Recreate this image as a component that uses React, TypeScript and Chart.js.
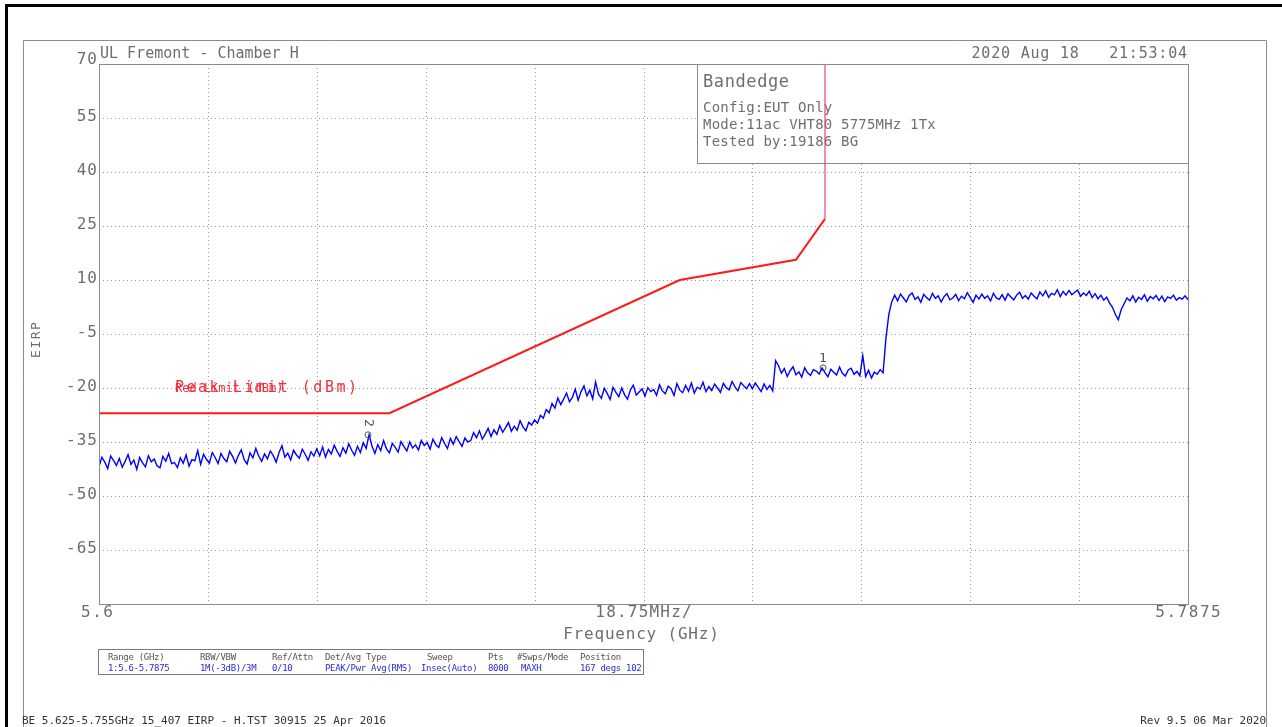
import React, { useEffect, useRef } from "react";
import { Chart, registerables } from "chart.js";

Chart.register(...registerables);

// ---- data ----
const yGridValues = [70, 55, 40, 25, 10, -5, -20, -35, -50, -65, -80];
const yTickLabels = ["70", "55", "40", "25", "10", "-5", "-20", "-35", "-50", "-65"];
const xGridValues = [5.6, 5.61875, 5.6375, 5.65625, 5.675, 5.69375, 5.7125, 5.73125, 5.75, 5.76875, 5.7875];
const xStartLabel = "5.6";
const xCenterLabel = "18.75MHz/";
const xEndLabel = "5.7875";

const limitFreqs = [5.6, 5.65, 5.7, 5.72, 5.725, 5.725];
const limitLevels = [-27, -27, 10, 15.6, 27, 122];

const traceStartGHz = 5.6;
const traceStepGHz = 0.0005;
const traceLevels = [
  // 5.6000 - 5.6170
  -41.8, -39.2, -40.6, -42.4, -38.9, -40.1, -41.5, -39.6, -42.0, -40.4, -38.5, -41.2, -40.0, -42.6, -39.3, -40.8, -41.9, -38.8, -40.5, -39.7,
  -41.6, -42.2, -39.0, -40.3, -38.2, -41.0, -40.7, -42.1, -39.4, -40.9, -38.6, -41.7, -39.9, -40.2, -37.4,
  // 5.6175 - 5.6375
  -41.2, -38.4, -39.8, -40.9, -37.9, -39.3, -41.0, -38.2, -39.6, -40.5, -37.6, -39.0, -40.8, -38.7, -37.2, -39.9, -41.1, -38.0, -39.4, -36.8,
  -38.9, -40.4, -38.3, -39.7, -37.5, -38.8, -40.6, -37.9, -36.0, -39.2, -38.1, -40.0, -37.3, -38.6, -39.5, -37.0, -38.4, -40.1, -37.7, -38.9, -36.9,
  // 5.6380 - 5.6545
  -38.8, -36.4, -39.2, -37.1, -38.3, -35.9, -37.6, -39.0, -36.6, -38.1, -35.5, -37.3, -38.7, -36.2, -37.9, -35.2, -36.8, -33.0, -36.1, -38.2,
  -35.7, -37.4, -34.6, -36.9, -38.0, -35.4, -36.5, -37.8, -34.9, -36.3, -37.5, -35.0, -36.7, -35.8,
  // 5.6550 - 5.6635
  -37.2, -34.6, -36.0, -35.1, -37.0, -34.2, -35.8, -36.5, -33.8, -35.4, -36.8, -34.0, -35.6, -33.5, -34.9, -36.2, -33.9, -35.0,
  // 5.6640 - 5.6750
  -34.6, -32.4, -33.8, -31.9, -34.2, -32.8, -31.2, -33.5, -31.6, -32.9, -30.4, -32.3, -31.0, -29.6, -32.0, -30.6, -31.7, -29.1, -30.8, -31.9,
  -29.5, -30.3, -28.9,
  // 5.6755 - 5.6810
  -29.8, -27.6, -28.4, -26.0, -26.9, -24.3, -25.6, -22.8, -24.6, -23.1, -21.4, -23.8,
  // 5.6815 - 5.6935
  -22.6, -20.3, -23.4, -21.0, -19.4, -22.2, -20.6, -23.0, -18.3, -21.7, -22.8, -20.1, -21.5, -23.2, -19.8, -21.2, -22.4, -20.0, -21.9, -23.1,
  -20.5, -19.2, -22.0, -21.1, -20.2,
  // 5.6940 - 5.7120
  -22.3, -19.9, -21.0, -20.4, -22.0, -19.1, -20.8, -21.6, -19.5, -20.2, -22.1, -18.8, -20.6, -21.3, -19.3, -20.9, -18.6, -21.4, -19.8, -20.3,
  -18.4, -21.0, -19.6, -20.7, -18.9, -20.0, -21.2, -18.7, -19.9, -20.5, -18.2, -19.7, -20.8, -18.5, -19.4, -20.2, -18.8,
  // 5.7125 - 5.7165
  -20.2, -18.6, -19.8, -21.0, -18.9, -20.4, -19.3, -20.8, -12.4,
  // 5.7170 - 5.7310
  -13.8, -15.9, -14.6, -16.8, -15.2, -14.1, -16.3, -15.5, -17.0, -14.4, -15.8, -16.5, -14.9, -15.3, -16.1, -14.4, -15.7, -16.9, -14.8, -15.6,
  -16.4, -14.2, -15.9, -16.7, -15.0, -14.5, -16.2, -15.4, -16.6, -11.0,
  // 5.7320 - 5.7370
  -16.8, -15.1, -17.2, -15.6, -16.2, -14.9, -15.8, -6.0, 0.5, 4.0, 5.8,
  // 5.7375 - 5.7875
  4.2, 6.1, 5.0, 3.9, 5.7, 6.4, 4.6, 5.3, 3.8, 6.0,
  5.1, 4.4, 6.3, 4.9, 5.6, 3.9, 5.4, 6.2, 4.5, 5.0,
  6.0, 4.3, 5.5, 4.8, 6.5, 5.2, 3.8, 5.8, 4.7, 6.1,
  4.9, 5.6, 4.2, 6.3, 5.0, 4.6, 5.9, 4.4, 6.2, 5.3,
  4.5, 5.8, 6.6, 4.9, 5.7, 4.7, 6.4, 5.5, 4.8, 6.7,
  5.6, 7.0, 5.2, 6.3, 5.9, 7.3, 5.4, 6.8, 5.8, 7.1,
  5.9, 6.6, 7.2, 5.5, 6.4, 5.7, 6.9, 5.1, 6.2, 4.8,
  5.8, 4.4, 5.2, 3.6, 2.4, 0.4, -1.0, 1.8, 3.4, 5.0,
  4.2, 5.6, 3.9, 5.2, 4.6, 5.9, 4.1, 5.4, 4.8, 5.7,
  4.3, 5.5, 4.0, 5.3, 4.9, 5.8, 4.4, 5.1, 4.7, 5.6, 4.5,
];

const markerLabels = ["1", "2"];
const markerFreqs = [5.72466, 5.64632];
const markerLevels = [-14.4, -33.0];

const headerLeft = "UL Fremont - Chamber H";
const headerRight = "2020 Aug 18   21:53:04";
const infoTitle = "Bandedge";
const infoLines = ["Config:EUT Only", "Mode:11ac VHT80 5775MHz 1Tx", "Tested by:19186 BG"];
const legendTextA = "Peak Limit (dBm)";
const legendTextB = "Red Limit (dBm)";
const yAxisTitle = "EIRP";
const xAxisTitle = "Frequency (GHz)";
const tableHeaders = ["Range (GHz)", "RBW/VBW", "Ref/Attn", "Det/Avg Type", "Sweep", "Pts", "#Swps/Mode", "Position"];
const tableValues = ["1:5.6-5.7875", "1M(-3dB)/3M", "0/10", "PEAK/Pwr Avg(RMS)", "Insec(Auto)", "8000", "MAXH", "167 degs 102"];
const footerLeft = "BE 5.625-5.755GHz 15_407 EIRP - H.TST 30915 25 Apr 2016";
const footerRight = "Rev 9.5 06 Mar 2020";

const MONO = "'DejaVu Sans Mono', 'Liberation Mono', monospace";

function txt(
  ctx: CanvasRenderingContext2D,
  s: string,
  x: number,
  y: number,
  size: number,
  color: string,
  align: CanvasTextAlign = "left",
  spacing = 0,
  baseline: CanvasTextBaseline = "alphabetic"
) {
  ctx.save();
  ctx.font = `${size}px ${MONO}`;
  ctx.fillStyle = color;
  ctx.textAlign = align;
  ctx.textBaseline = baseline;
  (ctx as any).letterSpacing = `${spacing}px`;
  const dx = align === "right" ? spacing : align === "center" ? spacing / 2 : 0;
  ctx.fillText(s, x + dx, y);
  ctx.restore();
}

const decorPlugin = {
  id: "decor",
  beforeDatasetsDraw(chart: any) {
    const ctx: CanvasRenderingContext2D = chart.ctx;
    const { left, right, top, bottom } = chart.chartArea;
    const xs = chart.scales.x;
    const ys = chart.scales.y;
    ctx.save();
    ctx.strokeStyle = "#9a9a9a";
    ctx.lineWidth = 1;
    ctx.setLineDash([1, 3]);
    xGridValues.slice(1, -1).forEach((v) => {
      const px = Math.round(xs.getPixelForValue(v)) + 0.5;
      ctx.beginPath();
      ctx.moveTo(px, top);
      ctx.lineTo(px, bottom);
      ctx.stroke();
    });
    yGridValues.slice(1, -1).forEach((v) => {
      const py = Math.round(ys.getPixelForValue(v)) + 0.5;
      ctx.beginPath();
      ctx.moveTo(left, py);
      ctx.lineTo(right, py);
      ctx.stroke();
    });
    ctx.setLineDash([]);
    // info box
    ctx.fillStyle = "#ffffff";
    ctx.fillRect(697, top, right - 697, 163 - top);
    ctx.strokeStyle = "#8a8a8a";
    ctx.strokeRect(697.5, top + 0.5, right - 697, 163 - top);
    ctx.restore();
    txt(ctx, infoTitle, 703, 87, 17, "#6e6e6e", "left", 0.6);
    infoLines.forEach((l, i) => txt(ctx, l, 703, 112 + i * 17, 14, "#6e6e6e", "left", 0.2));
  },
  afterDatasetsDraw(chart: any) {
    const ctx: CanvasRenderingContext2D = chart.ctx;
    const { left, right, top, bottom } = chart.chartArea;
    const xs = chart.scales.x;
    const ys = chart.scales.y;
    ctx.save();
    // plot border
    ctx.strokeStyle = "#8a8a8a";
    ctx.lineWidth = 1;
    ctx.strokeRect(Math.round(left) + 0.5, Math.round(top) + 0.5, Math.round(right - left), Math.round(bottom - top));
    // frames
    ctx.strokeStyle = "#8c8c8c";
    ctx.beginPath();
    ctx.moveTo(23.5, 727);
    ctx.lineTo(23.5, 40.5);
    ctx.lineTo(1266.5, 40.5);
    ctx.lineTo(1266.5, 727);
    ctx.stroke();
    ctx.fillStyle = "#000000";
    ctx.fillRect(5, 4, 3, 723);
    ctx.fillRect(5, 4, 1277, 3);
    ctx.restore();

    const grey = "#6e6e6e";
    // header
    txt(ctx, headerLeft, 100, 58, 15, grey, "left", 0);
    txt(ctx, headerRight, 1187, 58, 15, grey, "right", 0.8);
    // y ticks
    yTickLabels.forEach((lab, i) => {
      const py = ys.getPixelForValue(yGridValues[i]);
      txt(ctx, lab, 97, i === 0 ? py - 4 : py - 1, 16, grey, "right", 1, "middle");
    });
    // x labels
    txt(ctx, xStartLabel, xs.getPixelForValue(xGridValues[0]) - 2, 617, 16, grey, "center", 1.5);
    txt(ctx, xCenterLabel, xs.getPixelForValue(xGridValues[5]), 617, 16, grey, "center", 1.2);
    txt(ctx, xEndLabel, xs.getPixelForValue(xGridValues[10]), 617, 16, grey, "center", 1.5);
    txt(ctx, xAxisTitle, 641, 639, 16, grey, "center", 0.8);
    // y title
    ctx.save();
    ctx.translate(37, 340);
    ctx.rotate(-Math.PI / 2);
    txt(ctx, yAxisTitle, 0, 0, 13, grey, "center", 1.5, "middle");
    ctx.restore();
    // legend text (overlapping)
    txt(ctx, legendTextA, 175, 392, 15, "#f0303a", "left", 2.5);
    txt(ctx, legendTextB, 175, 392, 12, "#f0303a", "left", 0);
    // markers
    markerLabels.forEach((lab, i) => {
      const px = xs.getPixelForValue(markerFreqs[i]);
      const py = ys.getPixelForValue(markerLevels[i]);
      ctx.save();
      ctx.strokeStyle = "#555";
      ctx.lineWidth = 1;
      ctx.beginPath();
      ctx.arc(px, py, 3, 0, Math.PI * 2);
      ctx.stroke();
      ctx.restore();
      if (i === 1) {
        ctx.save();
        ctx.translate(px, py - 12);
        ctx.rotate(Math.PI / 2);
        txt(ctx, lab, 0, 0, 13, "#555", "center", 0, "middle");
        ctx.restore();
      } else {
        txt(ctx, lab, px, py - 6, 13, "#555", "center", 0);
      }
    });
    // bottom table
    ctx.save();
    ctx.strokeStyle = "#7a7a7a";
    ctx.lineWidth = 1;
    ctx.strokeRect(98.5, 649.5, 545, 25);
    ctx.restore();
    const colX = [108, 200, 272, 325, 427, 488, 517, 580];
    const valX = [108, 200, 272, 325, 421, 488, 521, 580];
    tableHeaders.forEach((h, i) => txt(ctx, h, colX[i], 660, 9, "#555", "left", -0.3));
    tableValues.forEach((h, i) => txt(ctx, h, valX[i], 671, 9, "#2a2ad8", "left", -0.3));
    // footer
    txt(ctx, footerLeft, 22, 724, 11, "#333", "left", 0);
    txt(ctx, footerRight, 1266, 724, 11, "#333", "right", 0);
  },
};

export default function App() {
  const ref = useRef<HTMLCanvasElement | null>(null);
  useEffect(() => {
    if (!ref.current) return;
    const tracePts = traceLevels.map((v, i) => ({ x: traceStartGHz + i * traceStepGHz, y: v }));
    const limitPts = limitFreqs.map((f, i) => ({ x: f, y: limitLevels[i] }));
    const chart = new Chart(ref.current, {
      type: "line",
      data: {
        datasets: [
          {
            data: tracePts,
            borderColor: "#0000ff",
            borderWidth: 1.4,
            pointRadius: 0,
            tension: 0,
            fill: false,
          },
          {
            data: limitPts,
            borderColor: "#ff1a1a",
            borderWidth: 2,
            pointRadius: 0,
            tension: 0,
            fill: false,
            segment: {
              borderWidth: (c: any) => (c.p0.parsed.x === c.p1.parsed.x ? 1.2 : 2),
              borderColor: (c: any) => (c.p0.parsed.x === c.p1.parsed.x ? "#f0406a" : "#ff1a1a"),
            },
          },
        ],
      },
      options: {
        animation: false,
        responsive: false,
        devicePixelRatio: 1,
        layout: { padding: { left: 99, top: 64, right: 94, bottom: 123 } },
        plugins: { legend: { display: false }, tooltip: { enabled: false } },
        events: [],
        scales: {
          x: { type: "linear", min: 5.6, max: 5.7875, display: false },
          y: { type: "linear", min: -80, max: 70, display: false },
        },
      } as any,
      plugins: [decorPlugin],
    });
    return () => chart.destroy();
  }, []);
  return (
    <div style={{ position: "absolute", left: 0, top: 0, width: 1282, height: 727, background: "#fff" }}>
      <canvas ref={ref} width={1282} height={727} style={{ display: "block" }} />
    </div>
  );
}
